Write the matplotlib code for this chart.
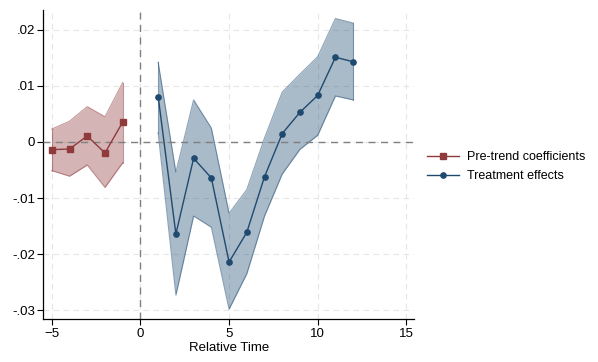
import numpy as np
import matplotlib
matplotlib.use('Agg')
import matplotlib.pyplot as plt

plt.rcParams['font.family'] = ['Liberation Sans', 'DejaVu Sans']

# Pre-trend coefficients (relative time -5..-1)
pre_t = [-5, -4, -3, -2, -1]
pre_b = [-0.00137, -0.00125, 0.00107, -0.00196, 0.00356]
pre_hi = [0.0023, 0.0037, 0.0063, 0.0045, 0.0106]
pre_lo = [-0.0051, -0.0061, -0.0041, -0.0081, -0.0037]

# Treatment effects (relative time 1..12)
post_t = [1, 2, 3, 4, 5, 6, 7, 8, 9, 10, 11, 12]
post_b = [0.0081, -0.0164, -0.0029, -0.0064, -0.0214, -0.0161,
          -0.0062, 0.0015, 0.0053, 0.0083, 0.0151, 0.0143]
post_hi = [0.0142, -0.0054, 0.0075, 0.0025, -0.0127, -0.0085,
           0.0007, 0.0089, 0.0121, 0.0152, 0.0220, 0.0212]
post_lo = [0.0016, -0.0273, -0.0132, -0.0152, -0.0298, -0.0235,
           -0.0132, -0.0057, -0.0013, 0.0012, 0.0082, 0.0075]

xticks = [-5, 0, 5, 10, 15]
yticks = [-0.03, -0.02, -0.01, 0, 0.01, 0.02]
ylabels = ['-.03', '-.02', '-.01', '0', '.01', '.02']

red = '#8f3a3d'
blue = '#1f4a70'

fig = plt.figure(figsize=(5.98, 3.62), dpi=100)
ax = fig.add_axes([0.0724, 0.118, 0.6204, 0.854])

# grid
for xv in xticks:
    ax.axvline(xv, color='#e6e6e6', lw=0.8, ls=(0, (5, 4)), zorder=0)
for yv in yticks:
    ax.axhline(yv, color='#e6e6e6', lw=0.8, ls=(0, (5, 4)), zorder=0)

# reference lines
ax.axvline(0, color='#808080', lw=1.0, ls=(0, (5, 4)), zorder=1)
ax.axhline(0, color='#808080', lw=1.0, ls=(0, (5, 4)), zorder=3)

# confidence bands
ax.fill_between(pre_t, pre_lo, pre_hi, color=red, alpha=0.38, lw=0, zorder=2)
ax.plot(pre_t, pre_hi, color=red, alpha=0.5, lw=0.8, zorder=2)
ax.plot(pre_t, pre_lo, color=red, alpha=0.5, lw=0.8, zorder=2)
ax.plot([pre_t[0], pre_t[0]], [pre_lo[0], pre_hi[0]], color=red, alpha=0.5, lw=0.8, zorder=2)
ax.plot([pre_t[-1], pre_t[-1]], [pre_lo[-1], pre_hi[-1]], color=red, alpha=0.5, lw=0.8, zorder=2)

ax.fill_between(post_t, post_lo, post_hi, color=blue, alpha=0.38, lw=0, zorder=2)
ax.plot(post_t, post_hi, color=blue, alpha=0.5, lw=0.8, zorder=2)
ax.plot(post_t, post_lo, color=blue, alpha=0.5, lw=0.8, zorder=2)
ax.plot([post_t[0], post_t[0]], [post_lo[0], post_hi[0]], color=blue, alpha=0.5, lw=0.8, zorder=2)
ax.plot([post_t[-1], post_t[-1]], [post_lo[-1], post_hi[-1]], color=blue, alpha=0.5, lw=0.8, zorder=2)

# point estimates
ax.plot(pre_t, pre_b, color=red, lw=1.0, marker='s', ms=4.3, zorder=4,
        label='Pre-trend coefficients')
ax.plot(post_t, post_b, color=blue, lw=1.0, marker='o', ms=3.8, zorder=4,
        label='Treatment effects')

ax.set_xlim(-5.48, 15.45)
ax.set_ylim(-0.0316, 0.0235)
ax.set_xticks(xticks)
ax.set_yticks(yticks)
ax.set_yticklabels(ylabels)
ax.set_xlabel('Relative Time', fontsize=9.5, labelpad=2)
ax.tick_params(labelsize=9.5, length=4, width=0.8, color='black', pad=2)
for s in ['top', 'right']:
    ax.spines[s].set_visible(False)
for s in ['left', 'bottom']:
    ax.spines[s].set_linewidth(0.9)

fig.legend(loc='center left', bbox_to_anchor=(0.695, 0.540), frameon=False,
           fontsize=9, handlelength=2.6, handletextpad=0.6, labelspacing=0.55)

fig.savefig('out.png', dpi=100)
